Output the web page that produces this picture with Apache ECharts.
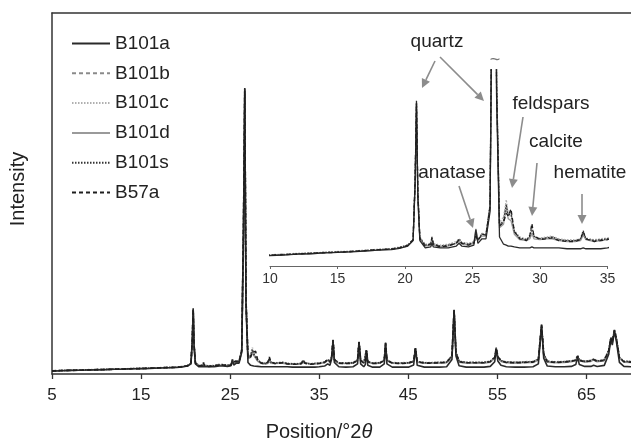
<!DOCTYPE html>
<html>
<head>
<meta charset="utf-8">
<script src="https://cdn.jsdelivr.net/npm/echarts@6/dist/echarts.min.js"></script>
<style>
  html, body { margin: 0; padding: 0; background: #fff; }
  #chart { width: 631px; height: 439px; }
</style>
</head>
<body>
<div id="chart"></div>
<script>
// Diffraction angle (°2θ) sampled for all patterns
const theta = [
  5, 6, 7, 8, 9, 10, 11, 12, 13, 14, 15, 16, 17, 18, 19, 19.6, 20.2, 20.6,
  20.75, 20.85, 20.95, 21.1, 21.5, 21.9, 22.0, 22.1, 22.6, 23.2, 23.8, 24.0, 24.2, 24.7, 25.1, 25.25, 25.4, 25.7,
  26.0, 26.3, 26.5, 26.64, 26.78, 27.0, 27.3, 27.5, 27.65, 27.85, 28.1, 28.5, 29.0, 29.25, 29.4, 29.55,
  30.0, 30.5, 30.9, 31.4, 32.0, 32.6, 33.0, 33.2, 33.4, 34.0, 34.5, 35.0, 35.6, 35.95, 36.2, 36.4, 36.55, 36.7,
  37.2, 38.0, 38.8, 39.3, 39.47, 39.65, 40.0, 40.17, 40.3, 40.45, 41.0, 41.8, 42.3, 42.45, 42.6, 43.2, 44.0, 45.0, 45.6, 45.8, 46.0, 46.8,
  47.6, 48.5, 49.3, 49.9, 50.14, 50.35, 50.7, 51.5, 52.5, 53.5, 54.2, 54.7, 54.87, 55.05, 55.4, 56.0, 57.0, 58.0, 59.0,
  59.6, 59.96, 60.2, 60.6, 61.5, 62.5, 63.3, 63.8, 64.0, 64.2, 64.8, 65.5, 65.8, 66.2, 67.0, 67.5, 67.74, 67.9, 68.14, 68.35, 68.7, 69.2, 70
];

// Intensities (arbitrary units) for each sample
const B101a = [
  0.8, 0.9, 1.0, 1.05, 1.1, 1.15, 1.2, 1.3, 1.35, 1.45, 1.5, 1.55, 1.65, 1.75, 1.8, 1.95, 2.2, 2.8,
  9.0, 18.2, 7.5, 2.8, 2.0, 2.1, 2.5, 2.1, 2.0, 2.0, 2.2, 2.5, 2.2, 2.1, 2.3, 4.0, 2.5, 3.0,
  3.0, 6.0, 40, 79.2, 19, 3.2, 2.4, 2.3, 2.2, 2.2, 2.1, 2.0, 2.0, 2.0, 2.1, 2.0,
  2.0, 2.0, 2.0, 2.0, 1.9, 1.9, 1.9, 2.0, 1.9, 1.9, 1.9, 2.0, 2.2, 2.8, 2.4, 4.2, 9.0, 3.2,
  2.0, 1.9, 2.0, 2.8, 8.7, 2.8, 2.0, 2.6, 6.4, 2.4, 1.9, 1.9, 2.8, 8.4, 2.8, 1.9, 1.9, 1.9, 2.5, 7.0, 2.4, 1.9,
  1.9, 1.9, 2.0, 4.0, 17.8, 5.0, 2.3, 1.9, 1.9, 1.9, 2.1, 3.4, 7.0, 3.6, 2.4, 2.0, 1.9, 1.9, 2.0,
  2.8, 13.4, 4.4, 2.2, 2.0, 2.0, 2.1, 2.6, 4.6, 2.6, 2.1, 2.1, 2.4, 2.1, 2.4, 5.5, 9.6, 8.0, 11.8, 9.2, 3.2, 2.1, 2.0
];
const B101b = [
  0.9, 0.95, 1.05, 1.1, 1.15, 1.2, 1.3, 1.35, 1.4, 1.5, 1.55, 1.6, 1.7, 1.8, 1.9, 2.05, 2.3, 2.9,
  9.2, 17.5, 8.2, 3.1, 2.3, 2.5, 3.0, 2.4, 2.2, 2.3, 2.6, 2.8, 2.5, 2.4, 2.6, 3.2, 2.8, 3.6,
  3.5, 6.6, 41, 77.8, 20.5, 4.6, 5.0, 6.5, 5.6, 5.8, 3.7, 3.0, 2.9, 3.2, 4.0, 3.2,
  3.0, 3.1, 3.1, 2.9, 2.8, 2.8, 2.9, 3.7, 3.0, 2.8, 2.9, 3.0, 3.2, 3.8, 3.3, 4.9, 9.2, 3.9,
  3.0, 3.0, 3.1, 3.8, 8.7, 3.8, 3.1, 3.5, 6.4, 3.3, 3.0, 3.1, 3.7, 8.4, 3.7, 3.1, 3.0, 3.1, 3.5, 7.0, 3.4, 3.1,
  3.1, 3.2, 3.2, 4.9, 17.2, 5.8, 3.4, 3.2, 3.2, 3.2, 3.4, 4.5, 7.0, 4.6, 3.6, 3.3, 3.2, 3.3, 3.4,
  4.0, 13.2, 5.4, 3.5, 3.3, 3.4, 3.6, 3.8, 4.8, 3.8, 3.5, 3.7, 4.1, 3.6, 3.9, 6.4, 9.8, 8.6, 12.0, 9.8, 4.4, 3.5, 3.4
];
const B101c = [
  0.9, 1.0, 1.05, 1.1, 1.2, 1.25, 1.3, 1.4, 1.45, 1.5, 1.6, 1.65, 1.75, 1.85, 1.9, 2.1, 2.3, 3.0,
  9.0, 17.4, 8.4, 3.2, 2.4, 2.5, 2.8, 2.5, 2.3, 2.4, 2.7, 3.0, 2.6, 2.5, 2.7, 3.0, 2.9, 3.4,
  3.6, 6.8, 40, 77, 21, 4.8, 5.4, 7.3, 5.8, 5.4, 3.9, 3.2, 3.0, 3.1, 3.6, 3.2,
  3.1, 3.2, 3.3, 3.0, 2.9, 2.9, 3.0, 3.5, 3.1, 2.9, 3.0, 3.1, 3.3, 3.9, 3.4, 5.1, 9.3, 4.1,
  3.1, 3.1, 3.2, 3.9, 8.8, 3.9, 3.2, 3.6, 6.5, 3.4, 3.1, 3.2, 3.8, 8.5, 3.8, 3.2, 3.1, 3.2, 3.6, 7.1, 3.5, 3.2,
  3.2, 3.3, 3.3, 5.0, 17.4, 5.9, 3.5, 3.3, 3.3, 3.3, 3.5, 4.6, 7.1, 4.7, 3.7, 3.4, 3.3, 3.4, 3.5,
  4.1, 13.4, 5.6, 3.6, 3.4, 3.5, 3.7, 3.9, 4.9, 3.9, 3.6, 3.8, 4.2, 3.7, 4.0, 6.6, 9.9, 8.9, 12.1, 9.9, 4.6, 3.6, 3.5
];
const B101d = [
  0.85, 0.9, 1.0, 1.05, 1.1, 1.2, 1.25, 1.3, 1.35, 1.45, 1.5, 1.6, 1.65, 1.75, 1.85, 2.0, 2.2, 2.8,
  9.3, 17.8, 8.1, 3.0, 2.2, 2.3, 2.7, 2.3, 2.1, 2.2, 2.5, 2.7, 2.4, 2.3, 2.5, 4.1, 2.9, 3.3,
  3.3, 6.4, 41, 78, 20, 4.2, 4.6, 6.4, 5.2, 5.0, 3.5, 2.9, 2.8, 3.0, 3.6, 3.0,
  2.9, 3.0, 3.0, 2.8, 2.7, 2.7, 2.8, 3.4, 2.9, 2.7, 2.8, 2.9, 3.1, 3.8, 3.2, 4.8, 9.1, 3.9,
  2.9, 2.9, 3.0, 3.7, 8.8, 3.7, 3.0, 3.5, 6.5, 3.3, 2.9, 3.0, 3.7, 8.5, 3.7, 3.0, 2.9, 3.0, 3.4, 7.1, 3.3, 3.0,
  3.0, 3.0, 3.1, 4.8, 17.5, 5.8, 3.3, 3.0, 3.0, 3.0, 3.3, 4.4, 7.1, 4.6, 3.5, 3.1, 3.0, 3.1, 3.2,
  3.9, 13.5, 5.4, 3.3, 3.1, 3.2, 3.4, 3.7, 4.9, 3.7, 3.3, 3.5, 3.9, 3.4, 3.7, 6.3, 9.9, 8.7, 12.1, 9.9, 4.4, 3.3, 3.2
];
const B101s = [
  0.85, 0.95, 1.0, 1.1, 1.15, 1.2, 1.25, 1.35, 1.4, 1.5, 1.55, 1.6, 1.7, 1.8, 1.9, 2.05, 2.3, 2.9,
  9.6, 18.0, 8.3, 3.1, 2.3, 2.4, 3.1, 2.4, 2.2, 2.3, 2.5, 3.0, 2.6, 2.4, 2.6, 3.4, 2.9, 3.5,
  3.5, 6.7, 42, 79, 21, 4.5, 5.0, 6.8, 5.5, 5.9, 3.8, 3.1, 2.9, 3.3, 4.4, 3.3,
  3.0, 3.1, 3.2, 2.9, 2.8, 2.8, 3.0, 3.9, 3.0, 2.8, 2.9, 3.0, 3.3, 4.0, 3.4, 5.0, 9.5, 4.0,
  3.0, 3.0, 3.1, 3.9, 9.0, 3.9, 3.1, 3.6, 6.7, 3.4, 3.0, 3.1, 3.9, 8.7, 3.9, 3.1, 3.0, 3.1, 3.6, 7.3, 3.5, 3.1,
  3.1, 3.2, 3.3, 5.1, 17.7, 6.1, 3.5, 3.2, 3.2, 3.2, 3.5, 4.7, 7.3, 4.9, 3.7, 3.3, 3.2, 3.3, 3.4,
  4.1, 13.7, 5.6, 3.5, 3.3, 3.4, 3.6, 3.9, 5.1, 3.9, 3.5, 3.7, 4.1, 3.6, 3.9, 6.6, 10.1, 8.9, 12.3, 10.1, 4.6, 3.5, 3.4
];
const B57a = [
  0.85, 0.95, 1.0, 1.05, 1.1, 1.2, 1.25, 1.3, 1.4, 1.45, 1.5, 1.6, 1.7, 1.8, 1.85, 2.0, 2.25, 2.9,
  9.5, 17.9, 8.0, 3.0, 2.2, 2.4, 3.2, 2.4, 2.1, 2.2, 2.5, 2.9, 2.5, 2.3, 2.5, 3.3, 2.8, 3.5,
  3.4, 6.5, 42, 78.5, 20, 4.4, 4.8, 5.8, 5.5, 6.3, 3.8, 3.0, 2.8, 3.4, 4.7, 3.3,
  2.9, 3.0, 3.1, 2.8, 2.7, 2.7, 2.9, 3.8, 3.0, 2.7, 2.8, 2.9, 3.2, 4.0, 3.3, 5.0, 9.4, 4.0,
  3.0, 2.9, 3.0, 3.8, 8.9, 3.8, 3.0, 3.6, 6.6, 3.4, 2.9, 3.0, 3.8, 8.6, 3.8, 3.0, 2.9, 3.0, 3.5, 7.2, 3.4, 3.0,
  3.0, 3.1, 3.2, 5.0, 17.6, 6.0, 3.4, 3.1, 3.1, 3.1, 3.4, 4.6, 7.2, 4.8, 3.6, 3.2, 3.1, 3.2, 3.3,
  4.0, 13.6, 5.5, 3.4, 3.2, 3.3, 3.5, 3.8, 5.0, 3.8, 3.4, 3.6, 4.0, 3.5, 3.8, 6.5, 10.0, 8.8, 12.2, 10.0, 4.5, 3.4, 3.3
];

// Axis tick positions
const mainTicks = [5, 15, 25, 35, 45, 55, 65];

const samples = [
  { name: 'B101a', values: B101a, color: '#2a2a2a', type: 'solid', z: 6 },
  { name: 'B101b', values: B101b, color: '#8a8a8a', type: [4, 3], z: 3 },
  { name: 'B101c', values: B101c, color: '#b0b0b0', type: [1.5, 1.5], z: 2 },
  { name: 'B101d', values: B101d, color: '#9a9a9a', type: 'solid', z: 4 },
  { name: 'B101s', values: B101s, color: '#333333', type: [1.5, 1.5], z: 5 },
  { name: 'B57a',  values: B57a,  color: '#1e1e1e', type: [4, 3], z: 7 }
];

const FONT = '"Liberation Sans", Arial, Helvetica, sans-serif';
const TEXT = '#222';
const ARROW = '#8c8c8c';

function pairs(values) {
  return theta.map((t, i) => [t, values[i]]);
}

const series = [];
samples.forEach(s => {
  const common = {
    name: s.name,
    type: 'line',
    symbol: 'none',
    silent: true,
    animation: false,
    z: s.z,
    data: pairs(s.values),
    itemStyle: { color: s.color }
  };
  series.push(Object.assign({}, common, {
    xAxisIndex: 0, yAxisIndex: 0,
    lineStyle: { color: s.color, type: s.type, width: 1.6 }
  }));
  series.push(Object.assign({}, common, {
    xAxisIndex: 2, yAxisIndex: 1,
    lineStyle: { color: s.color, type: s.type, width: 1.3 }
  }));
});

// Annotation arrow: shaft plus filled head
function arrow(p, q) {
  const dx = q[0] - p[0], dy = q[1] - p[1];
  const len = Math.hypot(dx, dy);
  const ux = dx / len, uy = dy / len;
  const hl = 9, hw = 4.5;
  const bx = q[0] - ux * hl, by = q[1] - uy * hl;
  return [
    { type: 'line', silent: true, shape: { x1: p[0], y1: p[1], x2: bx, y2: by },
      style: { stroke: ARROW, lineWidth: 1.6 } },
    { type: 'polygon', silent: true,
      shape: { points: [[q[0], q[1]], [bx - uy * hw, by + ux * hw], [bx + uy * hw, by - ux * hw]] },
      style: { fill: ARROW } }
  ];
}

function label(text, x, y) {
  return { type: 'text', x: x, y: y, silent: true,
    style: { text: text, fontSize: 19, fontFamily: FONT, fill: TEXT, align: 'center', verticalAlign: 'middle' } };
}

const graphics = [
  label('quartz', 437, 42),
  label('feldspars', 551, 104),
  label('calcite', 556, 142),
  label('anatase', 452, 173),
  label('hematite', 590, 173),
  { type: 'text', x: 495, y: 60, silent: true,
    style: { text: '~', fontSize: 18, fontFamily: FONT, fill: '#777', align: 'center', verticalAlign: 'middle' } },
  { type: 'text', x: 319, y: 432, silent: true,
    style: {
      text: 'Position/°2{it|θ}', fontSize: 20, fontFamily: FONT, fill: TEXT,
      align: 'center', verticalAlign: 'middle',
      rich: { it: { fontStyle: 'italic', fontSize: 20, fontFamily: FONT, fill: TEXT } }
    } },
  { type: 'text', x: 18, y: 189, rotation: Math.PI / 2, silent: true,
    style: { text: 'Intensity', fontSize: 20, fontFamily: FONT, fill: TEXT, align: 'center', verticalAlign: 'middle' } }
].concat(
  arrow([435, 61], [422, 88]),
  arrow([440, 57], [484, 101]),
  arrow([523, 117], [512, 188]),
  arrow([537, 163], [532, 216]),
  arrow([459, 186], [473, 228]),
  arrow([582, 194], [582, 224])
);

const chart = echarts.init(document.getElementById('chart'), null, { renderer: 'canvas' });
chart.setOption({
  backgroundColor: '#fff',
  animation: false,
  textStyle: { fontFamily: FONT },
  grid: [
    { left: 52, right: 0, top: 13, bottom: 65, outerBoundsMode: 'none' },
    { left: 270, right: 23.5, top: 70, bottom: 173, outerBoundsMode: 'none' }
  ],
  legend: {
    data: samples.map(s => s.name),
    orient: 'vertical',
    left: 66,
    top: 29,
    padding: 5,
    itemWidth: 38,
    itemHeight: 14,
    itemGap: 10.8,
    selectedMode: false,
    itemStyle: { opacity: 0 },
    textStyle: { fontSize: 19, color: TEXT, fontFamily: FONT, lineHeight: 19 }
  },
  xAxis: [
    {
      type: 'value', gridIndex: 0, position: 'bottom', min: 5, max: 70,
      axisLine: { show: true, onZero: false, lineStyle: { color: '#333', width: 1.5 } },
      axisTick: { show: true, length: 5, customValues: mainTicks, lineStyle: { color: '#333', width: 1.3 } },
      axisLabel: { show: true, customValues: mainTicks, fontSize: 17, color: TEXT, margin: 13, fontFamily: FONT },
      splitLine: { show: false }
    },
    {
      type: 'value', gridIndex: 0, position: 'top', min: 5, max: 70,
      axisLine: { show: true, onZero: false, lineStyle: { color: '#333', width: 1.5 } },
      axisTick: { show: false }, axisLabel: { show: false }, splitLine: { show: false }
    },
    {
      type: 'value', gridIndex: 1, position: 'bottom', min: 10, max: 35, interval: 5,
      axisLine: { show: true, onZero: false, lineStyle: { color: '#666', width: 1.2 } },
      axisTick: { show: true, length: 3, lineStyle: { color: '#666', width: 1 } },
      axisLabel: { show: true, fontSize: 14, color: '#333', margin: 6, fontFamily: FONT },
      splitLine: { show: false }
    }
  ],
  yAxis: [
    {
      type: 'value', gridIndex: 0, min: 0, max: 100,
      axisLine: { show: true, onZero: false, lineStyle: { color: '#333', width: 1.5 } },
      axisTick: { show: false }, axisLabel: { show: false }, splitLine: { show: false }
    },
    {
      type: 'value', gridIndex: 1, min: 0, max: 21.6, show: false,
      splitLine: { show: false }
    }
  ],
  series: series,
  graphic: { elements: graphics }
});
</script>
</body>
</html>
